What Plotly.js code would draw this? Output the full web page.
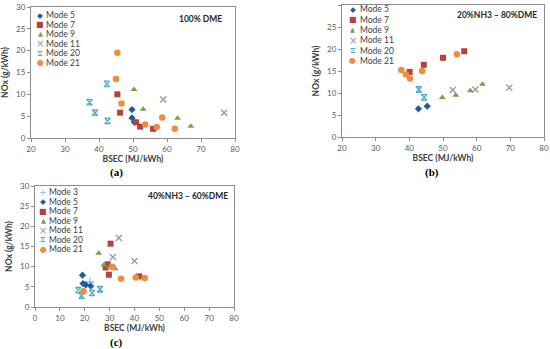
<!DOCTYPE html>
<html><head><meta charset="utf-8">
<script src="https://cdn.plot.ly/plotly-3.0.1.min.js"></script>
<style>html,body{margin:0;padding:0;background:#fff}#chart{width:550px;height:349px}</style>
</head><body><div id="chart"></div>
<script>
// ---- Data (BSEC MJ/kWh, NOx g/kWh) ----
const modeNames = ["Mode 3","Mode 5","Mode 7","Mode 9","Mode 11","Mode 20","Mode 21"];
// Panel (a) 100% DME
const a_m5_x = [49.7, 49.7, 50.4];  const a_m5_y = [6.5, 4.6, 3.6];
const a_m7_x = [45.4, 46.2, 50.9, 52.1, 55.9]; const a_m7_y = [10.0, 5.8, 3.6, 2.6, 2.1];
const a_m9_x = [50.3, 53.0, 63.1, 67.0]; const a_m9_y = [11.1, 6.6, 4.5, 2.7];
const a_m11_x = [58.9, 76.8]; const a_m11_y = [8.8, 5.8];
const a_m20_x = [42.3, 37.2, 38.8, 42.5]; const a_m20_y = [12.4, 8.2, 5.8, 3.9];
const a_m21_x = [45.4, 45.0, 46.6, 53.6, 57.0, 58.6, 62.3]; const a_m21_y = [19.5, 13.5, 7.9, 3.1, 2.5, 4.7, 2.1];
// Panel (b) 20%NH3 - 80%DME
const b_m5_x = [42.7, 45.3]; const b_m5_y = [6.4, 7.0];
const b_m7_x = [40.1, 44.3, 50.0, 56.3]; const b_m7_y = [14.8, 16.4, 18.0, 19.5];
const b_m9_x = [49.8, 53.8, 58.1, 61.7]; const b_m9_y = [9.0, 9.5, 10.5, 12.0];
const b_m11_x = [52.9, 59.6, 69.7]; const b_m11_y = [10.7, 10.8, 11.2];
const b_m20_x = [42.8, 44.4]; const b_m20_y = [10.8, 9.0];
const b_m21_x = [37.6, 39.0, 40.2, 43.8, 54.1]; const b_m21_y = [15.2, 14.2, 13.3, 15.0, 18.8];
// Panel (c) 40%NH3 - 60%DME
const c_m3_x = [22.1]; const c_m3_y = [6.2];
const c_m5_x = [19.1, 19.3, 20.4, 22.4]; const c_m5_y = [7.9, 5.8, 5.5, 5.2];
const c_m7_x = [30.4, 29.2, 28.4, 29.7, 41.9]; const c_m7_y = [15.7, 10.6, 9.8, 8.0, 7.6];
const c_m9_x = [25.6, 27.6, 30.0, 32.2]; const c_m9_y = [13.3, 10.4, 10.0, 9.5];
const c_m11_x = [33.7, 31.3, 40.0]; const c_m11_y = [17.1, 12.4, 11.4];
const c_m20_x = [17.4, 18.7, 22.9, 26.1]; const c_m20_y = [4.2, 2.8, 3.5, 4.4];
const c_m21_x = [19.5, 31.2, 34.6, 40.5, 44.1]; const c_m21_y = [3.9, 9.9, 7.0, 7.3, 7.2];

const xTickVals_ab = [20,30,40,50,60,70,80];
const xTickVals_c = [0,10,20,30,40,50,60,70,80];
const yTickVals = [0,5,10,15,20,25,30];
const panelTexts = ["100% DME", "20%NH3 – 80%DME", "40%NH3 – 60%DME"];
const panelLabels = ["(a)", "(b)", "(c)"];

// ---- Styles ----
const FONT = "Lato, 'Open Sans', sans-serif";
const sty = {
  "Mode 3":  {symbol:"cross-thin-open", color:"#8fb4e3", size:6, line:1.3, glyph:"+", gs:9},
  "Mode 5":  {symbol:"diamond", color:"#1f5c99", size:5.5, line:0, glyph:"◆", gs:7.5},
  "Mode 7":  {symbol:"square", color:"#b8413e", size:6, line:0, glyph:"■", gs:8},
  "Mode 9":  {symbol:"triangle-up", color:"#77a043", size:6, line:0, glyph:"▲", gs:6.5},
  "Mode 11": {symbol:"x-thin-open", color:"#9d92b8", size:6, line:1.3, glyph:"×", gs:10},
  "Mode 20": {symbol:"hourglass-open", color:"#4bacc6", size:5.5, line:1.3, glyph:"⧖", gs:8},
  "Mode 21": {symbol:"circle", color:"#f28c3c", size:6.5, line:0, glyph:"●", gs:8}
};

function tr(name, xs, ys, ax){
  const s = sty[name];
  const mk = {symbol:s.symbol, size:s.size, color:s.color};
  if (s.line) mk.line = {color:s.color, width:s.line};
  return {type:"scatter", mode:"markers", name:name, x:xs, y:ys,
    xaxis:"x"+ax, yaxis:"y"+ax, marker:mk, showlegend:false, cliponaxis:false};
}

const data = [
  tr("Mode 5", a_m5_x, a_m5_y, ""), tr("Mode 7", a_m7_x, a_m7_y, ""), tr("Mode 9", a_m9_x, a_m9_y, ""),
  tr("Mode 11", a_m11_x, a_m11_y, ""), tr("Mode 20", a_m20_x, a_m20_y, ""), tr("Mode 21", a_m21_x, a_m21_y, ""),
  tr("Mode 5", b_m5_x, b_m5_y, "2"), tr("Mode 7", b_m7_x, b_m7_y, "2"), tr("Mode 9", b_m9_x, b_m9_y, "2"),
  tr("Mode 11", b_m11_x, b_m11_y, "2"), tr("Mode 20", b_m20_x, b_m20_y, "2"), tr("Mode 21", b_m21_x, b_m21_y, "2"),
  tr("Mode 3", c_m3_x, c_m3_y, "3"), tr("Mode 5", c_m5_x, c_m5_y, "3"), tr("Mode 7", c_m7_x, c_m7_y, "3"),
  tr("Mode 9", c_m9_x, c_m9_y, "3"), tr("Mode 11", c_m11_x, c_m11_y, "3"), tr("Mode 20", c_m20_x, c_m20_y, "3"),
  tr("Mode 21", c_m21_x, c_m21_y, "3")
];

const W = 550, H = 349;
const px = v => v / W, py = v => 1 - v / H;

// plot-area boxes in pixels [x0, x1, yTop, yBottom]
const boxes = [[31,235,7,138],[342,544,5,137],[35,234,186,307]];

function xax(box, range, tv, anchor){
  return {domain:[px(box[0]), px(box[1])], range:range, tickvals:tv, anchor:anchor,
    showgrid:false, zeroline:false, showline:true, mirror:true, linecolor:"#8c8c8c", linewidth:1,
    ticks:"outside", ticklen:3, tickcolor:"#8c8c8c", tickfont:{family:FONT, size:8, color:"#595959"},
    title:{text:"BSEC (MJ/kWh)", font:{family:FONT, size:8.5, color:"#404040", weight:"bold"}, standoff:1},
    automargin:false, fixedrange:true};
}
function yax(box, anchor){
  return {domain:[py(box[3]), py(box[2])], range:[0,30], tickvals:yTickVals, anchor:anchor,
    showgrid:false, zeroline:false, showline:true, mirror:true, linecolor:"#8c8c8c", linewidth:1,
    ticks:"outside", ticklen:3, tickcolor:"#8c8c8c", tickfont:{family:FONT, size:8, color:"#595959"},
    title:{text:"NOx (g/kWh)", font:{family:FONT, size:8.5, color:"#404040", weight:"bold"}, standoff:6},
    automargin:false, fixedrange:true};
}

const annotations = [];
// inner labels
const innerPos = [[200,19],[497,15],[188,196]];
innerPos.forEach((p,i)=>annotations.push({xref:"paper", yref:"paper", x:px(p[0]), y:py(p[1]),
  text:"<b>"+panelTexts[i]+"</b>", showarrow:false, xanchor:"center", yanchor:"middle",
  font:{family:FONT, size:8.5, color:"#262626"}}));
// panel labels
const labPos = [[116,172],[432,172],[116,342]];
labPos.forEach((p,i)=>annotations.push({xref:"paper", yref:"paper", x:px(p[0]), y:py(p[1]),
  text:"<b>"+panelLabels[i]+"</b>", showarrow:false, xanchor:"center", yanchor:"middle",
  font:{family:"'Liberation Serif', serif", size:11, color:"#000"}}));
// legends (drawn as text)
const legendSets = [
  {names:["Mode 5","Mode 7","Mode 9","Mode 11","Mode 20","Mode 21"], mx:40, tx:44, y0:15, dy:9.6},
  {names:["Mode 5","Mode 7","Mode 9","Mode 11","Mode 20","Mode 21"], mx:352.5, tx:357.5, y0:9.3, dy:10.3},
  {names:["Mode 3","Mode 5","Mode 7","Mode 9","Mode 11","Mode 20","Mode 21"], mx:43, tx:47, y0:192.3, dy:9.45}
];
legendSets.forEach(L=>{
  L.names.forEach((n,i)=>{
    const yy = L.y0 + i*L.dy;
    annotations.push({xref:"paper", yref:"paper", x:px(L.mx), y:py(yy), text:sty[n].glyph,
      showarrow:false, xanchor:"center", yanchor:"middle",
      font:{family:"'DejaVu Sans', sans-serif", size:sty[n].gs, color:sty[n].color}});
    annotations.push({xref:"paper", yref:"paper", x:px(L.tx), y:py(yy), text:n,
      showarrow:false, xanchor:"left", yanchor:"middle",
      font:{family:FONT, size:8.5, color:"#404040"}});
  });
});

const layout = {
  width:W, height:H, margin:{l:0,r:0,t:0,b:0}, paper_bgcolor:"#fff", plot_bgcolor:"#fff",
  showlegend:false,
  xaxis: xax(boxes[0],[20,80],xTickVals_ab,"y"), yaxis: yax(boxes[0],"x"),
  xaxis2: xax(boxes[1],[20,80],xTickVals_ab,"y2"), yaxis2: yax(boxes[1],"x2"),
  xaxis3: xax(boxes[2],[0,80],xTickVals_c,"y3"), yaxis3: yax(boxes[2],"x3"),
  annotations: annotations
};
Plotly.newPlot("chart", data, layout, {staticPlot:true, displayModeBar:false});
</script></body></html>
